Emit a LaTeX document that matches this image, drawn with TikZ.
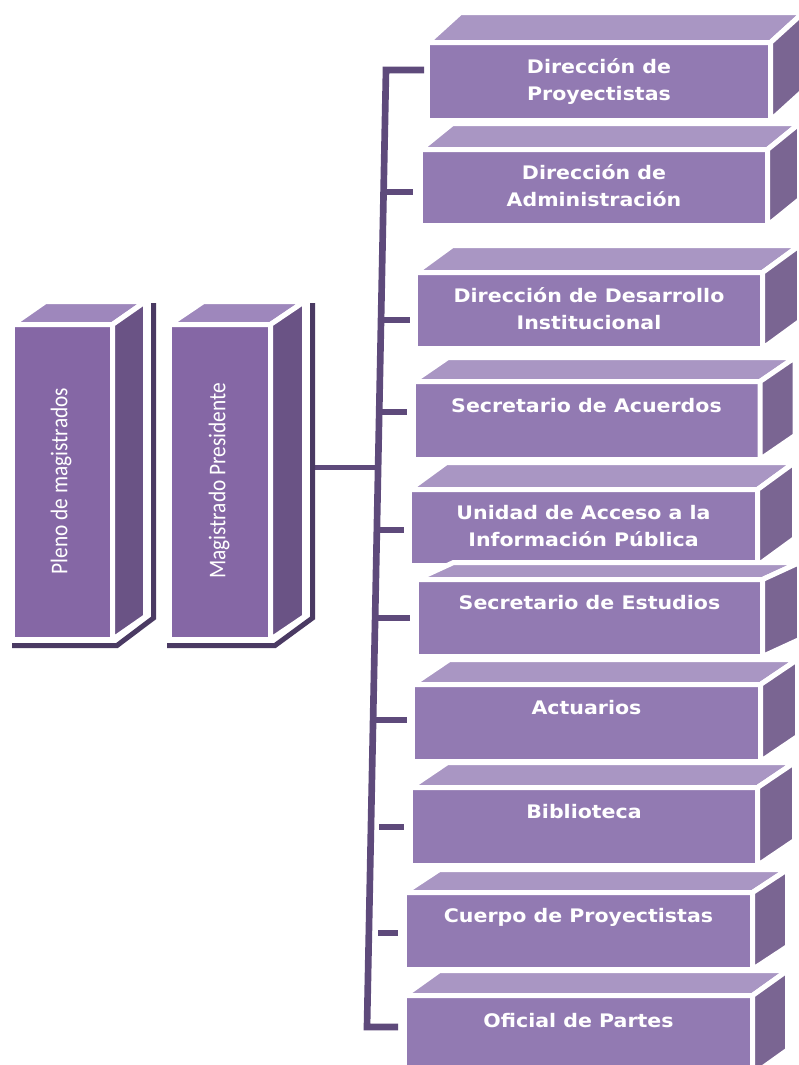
\documentclass[tikz,border=0pt]{standalone}
\usepackage{fontspec}
\setmainfont{DejaVu Sans}
\newfontfamily\boxfont[FakeStretch=1.1]{DejaVu Sans}
\newfontfamily\leftfont[FakeStretch=0.89]{Carlito}
\usetikzlibrary{calc}
\definecolor{rfrontc}{HTML}{927AB2}
\definecolor{rtopc}{HTML}{A996C3}
\definecolor{rsidec}{HTML}{7A6592}
\definecolor{lfrontc}{HTML}{8567A5}
\definecolor{ltopc}{HTML}{9E87BC}
\definecolor{lsidec}{HTML}{6A5385}
\definecolor{linec}{HTML}{5E4A7B}
\definecolor{shadc}{HTML}{4A3A63}
\newcommand\twoline[2]{\strut #1\\\strut #2}
% right cuboid: name, x0, y0, x1, y1, dx, dy, text
\newcommand\rbox[8]{%
  \node[rfront, minimum width={(#4-#2)*0.75pt}, minimum height={(#5-#3)*0.75pt}] (#1) at ({(#2+#4)/2},{(#3+#5)/2}) {#8};
  \filldraw[facetop] (#1.north west) -- (#1.north east) -- ++(#6,#7) -- ([shift={(#6,#7)}]#1.north west) -- cycle;
  \filldraw[faceside] (#1.north east) -- ++(#6,#7) -- ([shift={(#6,#7)}]#1.south east) -- (#1.south east) -- cycle;
}
% left cuboid: name, x0, y0, x1, y1, dx, dy
\newcommand\lbox[7]{%
  \node[lfront, minimum width={(#4-#2)*0.75pt}, minimum height={(#5-#3)*0.75pt}] (#1) at ({(#2+#4)/2},{(#3+#5)/2}) {};
  \filldraw[lfacetop] (#1.north west) -- (#1.north east) -- ++(#6,#7) -- ([shift={(#6,#7)}]#1.north west) -- cycle;
  \filldraw[lfaceside] (#1.north east) -- ++(#6,#7) -- ([shift={(#6,#7)}]#1.south east) -- (#1.south east) -- cycle;
}
\begin{document}
\begin{tikzpicture}[x=0.75pt,y=-0.75pt,
  rfront/.style={draw=white, line width=3.75pt, fill=rfrontc, inner sep=0pt, outer sep=0pt,
    text=white, align=center, font=\boxfont\bfseries\fontsize{14}{20.25}\selectfont},
  facetop/.style={draw=white, line width=3.75pt, line join=round, fill=rtopc},
  faceside/.style={draw=white, line width=3.75pt, line join=round, fill=rsidec},
  lfront/.style={draw=white, line width=3.75pt, fill=lfrontc, inner sep=0pt, outer sep=0pt},
  lfacetop/.style={draw=white, line width=3.75pt, line join=round, fill=ltopc},
  lfaceside/.style={draw=white, line width=3.75pt, line join=round, fill=lsidec},
  ltext/.style={text=white, font=\leftfont\fontsize{18}{21}\selectfont, inner sep=0pt, rotate=90},
  conn/.style={draw=linec, line width=5pt, line join=miter},
  thinconn/.style={draw=linec, line width=3.75pt},
  shadow/.style={draw=shadc, line width=3.75pt, line join=miter}
]
\useasboundingbox (0,0) rectangle (799,1065);
\clip (0,0) rectangle (799,1065);
\fill[white] (0,0) rectangle (799,1065);

% ---- connectors ----
\coordinate (ttop) at (386,70);
\coordinate (tbot) at (367,1027);
\coordinate (e1) at (424,70);
\coordinate (e10) at (398,1027);
\draw[conn] (e1) -- (ttop) -- (tbot) -- (e10);
\coordinate (s2) at (383.6,192);  \coordinate (e2) at (413,192);
\coordinate (s3) at (381,320);    \coordinate (e3) at (410,320);
\coordinate (s4) at (379.2,412);  \coordinate (e4) at (407,412);
\coordinate (s5) at (376.9,530);  \coordinate (e5) at (404,530);
\coordinate (s6) at (375.1,618);  \coordinate (e6) at (410,618);
\coordinate (s7) at (373.1,720);  \coordinate (e7) at (407,720);
\coordinate (s8) at (379,827);    \coordinate (e8) at (404,827);
\coordinate (s9) at (378,933);    \coordinate (e9) at (398,933);
\foreach \i in {2,...,9} {\draw[conn] (s\i) -- (e\i);}
\coordinate (mp) at (312,467);
\coordinate (mt) at (378,467);
\draw[thinconn] (mp) -- (mt);

% ---- left boxes ----
\draw[shadow] (12,645.5) -- (117,645.5) -- (153.5,618) -- (153.5,303);
\draw[shadow] (167,645.5) -- (275,645.5) -- (312.5,618) -- (312.5,303);
\lbox{pleno}{12.5}{324.5}{112.5}{639.5}{33}{-23}
\lbox{presi}{169.5}{324.5}{270.5}{639.5}{34}{-23}
\node[ltext] (tpleno) at (61,481) {Pleno de magistrados};
\node[ltext] (tpresi) at (219,481) {Magistrado Presidente};

% ---- right boxes ----
\rbox{b1}{427.5}{42.5}{770.5}{120.5}{33}{-30}{\twoline{Dirección de}{Proyectistas}}
\rbox{b2}{420.5}{149.5}{767.5}{225.5}{32}{-26}{\twoline{Dirección de}{Administración}}
\rbox{b3}{415.5}{272.5}{762.5}{348.5}{37}{-27}{\twoline{Dirección de Desarrollo}{Institucional}}
\rbox{b4}{413}{381.5}{760}{459.5}{35}{-24}{\twoline{Secretario de Acuerdos}{}}
\rbox{b5}{409.5}{489.5}{757.5}{565.5}{37}{-27}{\twoline{Unidad de Acceso a la}{Información Pública}}
\rbox{b6}{416.5}{579.5}{762.5}{656.5}{37}{-17}{\twoline{Secretario de Estudios}{}}
\rbox{b7}{412.5}{684.5}{760.5}{761.5}{37}{-25}{\twoline{Actuarios}{}}
\rbox{b8}{410.5}{787.5}{757.5}{865.5}{37}{-25}{\twoline{Biblioteca}{}}
\rbox{b9}{404.5}{892.5}{752.5}{969.5}{35}{-23}{\twoline{Cuerpo de Proyectistas}{}}
\rbox{b10}{404.5}{995.5}{752.5}{1075}{35}{-25}{\twoline{Oficial de Partes}{}}
\end{tikzpicture}
\end{document}
